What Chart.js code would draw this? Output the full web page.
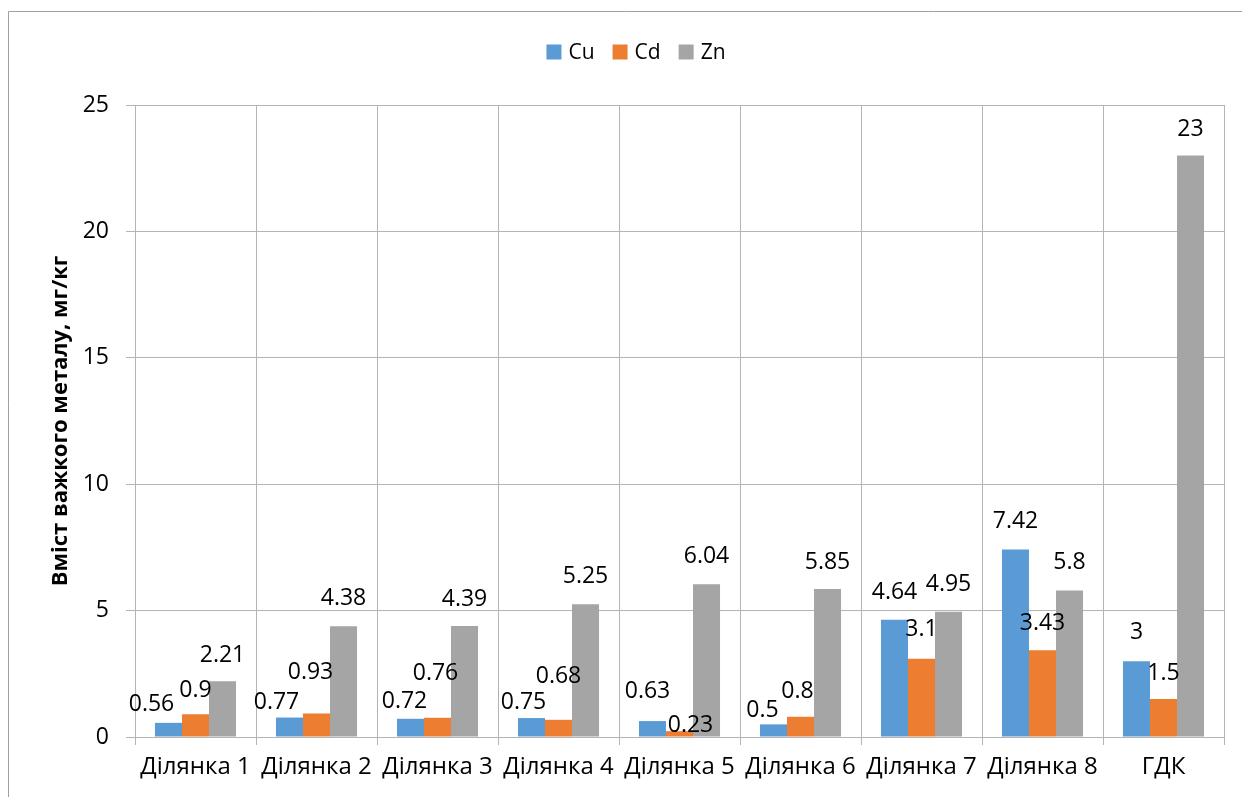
<!DOCTYPE html>
<html>
<head>
<meta charset="utf-8">
<script src="https://cdn.jsdelivr.net/npm/chart.js@4"></script>
<style>
html,body{margin:0;padding:0;background:#fff;overflow:hidden;}
#wrap{width:1242px;height:797px;position:relative;}
</style>
</head>
<body>
<div id="wrap"><canvas id="c" width="1242" height="797"></canvas></div>
<script>
const categories = ['Ділянка 1','Ділянка 2','Ділянка 3','Ділянка 4','Ділянка 5','Ділянка 6','Ділянка 7','Ділянка 8','ГДК'];
const seriesNames = ['Cu','Cd','Zn'];
const cuValues = [0.56,0.77,0.72,0.75,0.63,0.5,4.64,7.42,3];
const cdValues = [0.9,0.93,0.76,0.68,0.23,0.8,3.1,3.43,1.5];
const znValues = [2.21,4.38,4.39,5.25,6.04,5.85,4.95,5.8,23];
const yTicks = [0,5,10,15,20,25];
const yTitle = 'Вміст важкого металу, мг/кг';

const colors = ['#5B9BD5','#ED7D31','#A5A5A5'];
const FONT = '"Open Sans", "Noto Sans", sans-serif';

// label nudges (style only): [dx, dy] relative to bar top centre, per series per category
const labelNudge = [
  [[-17,-18],[-13,-15],[-6,-17],[-8,-16],[-5,-30],[-11,-14],[0,-27],[0,-28],[0,-29]],
  [[0,-24],[-6,-41],[-2,-44],[0,-43],[11,-6],[-3,-25],[0,-29],[0,-27],[0,-26]],
  [[0,-26],[0,-28],[0,-27],[0,-28],[0,-28],[0,-27],[0,-27],[0,-28],[0,-26]]
];

const frame = {
  id:'frame',
  beforeDraw(chart){
    const ctx = chart.ctx;
    ctx.save();
    ctx.fillStyle='#fff';
    ctx.fillRect(0,0,chart.width,chart.height);
    ctx.strokeStyle='#a0a0a0';
    ctx.lineWidth=1;
    ctx.beginPath();
    ctx.moveTo(8.5,chart.height);
    ctx.lineTo(8.5,11.5);
    ctx.lineTo(chart.width,11.5);
    ctx.stroke();
    ctx.restore();
  }
};

const legendPlugin = {
  id:'customLegend',
  afterDraw(chart){
    const ctx = chart.ctx;
    ctx.save();
    ctx.font = '21px ' + FONT;
    ctx.textBaseline='middle';
    ctx.textAlign='left';
    const box=15, gap=7, itemGap=18;
    const widths = seriesNames.map(n=>box+gap+ctx.measureText(n).width);
    const total = widths.reduce((a,b)=>a+b,0)+itemGap*(seriesNames.length-1);
    let x = 636 - total/2;
    const y = 52;
    seriesNames.forEach((n,i)=>{
      ctx.fillStyle=colors[i];
      ctx.fillRect(x, y-7.5, box, box);
      ctx.fillStyle='#000';
      ctx.fillText(n, x+box+gap, y+1);
      x += widths[i]+itemGap;
    });
    ctx.restore();
  }
};

const labelPlugin = {
  id:'barLabels',
  afterDatasetsDraw(chart){
    const ctx = chart.ctx;
    ctx.save();
    ctx.font = '23px ' + FONT;
    ctx.fillStyle='#000';
    ctx.textAlign='center';
    ctx.textBaseline='middle';
    chart.data.datasets.forEach((ds,di)=>{
      const meta = chart.getDatasetMeta(di);
      meta.data.forEach((el,i)=>{
        const nd = labelNudge[di][i];
        ctx.fillText(String(ds.data[i]), el.x+nd[0], el.y+nd[1]);
      });
    });
    ctx.restore();
  }
};

const gridColor = '#b4b4b4';

new Chart(document.getElementById('c'), {
  type:'bar',
  data:{
    labels: categories,
    datasets:[
      {label:seriesNames[0], data:cuValues, backgroundColor:colors[0]},
      {label:seriesNames[1], data:cdValues, backgroundColor:colors[1]},
      {label:seriesNames[2], data:znValues, backgroundColor:colors[2]}
    ]
  },
  options:{
    responsive:false,
    animation:false,
    devicePixelRatio:1,
    layout:{padding:{left:0,right:18,top:105,bottom:0}},
    datasets:{bar:{categoryPercentage:0.67,barPercentage:1.0}},
    plugins:{legend:{display:false},tooltip:{enabled:false},title:{display:false}},
    scales:{
      x:{
        offset:true,
        grid:{display:true,offset:true,color:gridColor,tickLength:8,drawTicks:true,lineWidth:1},
        border:{display:true,color:gridColor},
        ticks:{color:'#000',font:{family:FONT,size:24},padding:8,maxRotation:0,autoSkip:false},
        afterFit(s){ s.height = 60; }
      },
      y:{
        min:0,max:25,
        afterBuildTicks(s){ s.ticks = yTicks.map(v=>({value:v})); },
        grid:{color:gridColor,tickLength:9,lineWidth:1},
        border:{display:true,color:gridColor},
        ticks:{color:'#000',font:{family:FONT,size:23},padding:17},
        title:{display:true,text:yTitle,color:'#000',font:{family:FONT,size:22,weight:'bold'},padding:{top:48,bottom:0}},
        afterFit(s){ s.width = 135; }
      }
    }
  },
  plugins:[frame,labelPlugin,legendPlugin]
});
</script>
</body>
</html>
